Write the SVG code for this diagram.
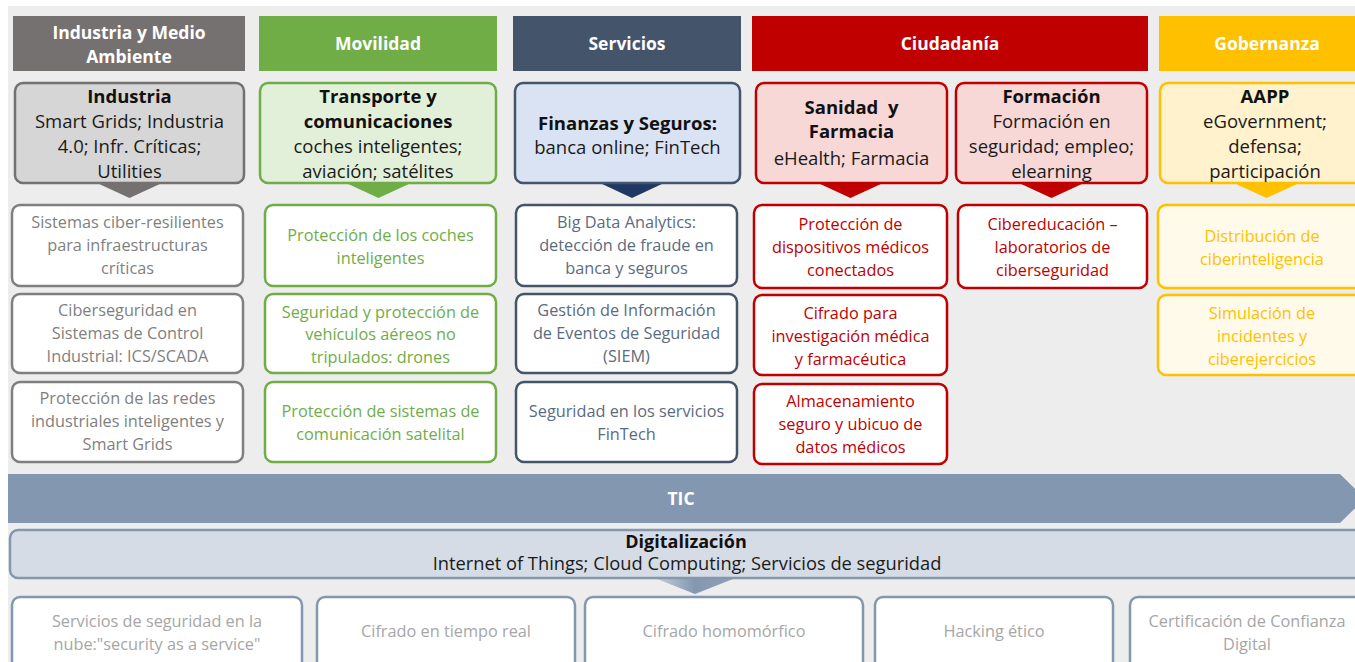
<svg xmlns="http://www.w3.org/2000/svg" width="1355" height="662" viewBox="0 0 1355 662">
<defs>
<linearGradient id="gArrow" x1="0" y1="0" x2="1" y2="0">
<stop offset="0" stop-color="#c3cddb"/>
<stop offset="0.5" stop-color="#8497b0"/>
<stop offset="1" stop-color="#8fa1b8"/>
</linearGradient>
</defs>
<style>
text{font-family:"Open Sans","Liberation Sans",sans-serif;text-anchor:middle;dominant-baseline:central}
.h{font-size:17.5px;font-weight:bold;fill:#ffffff}
.sb{font-size:18.5px;font-weight:bold;fill:#111111}
.sn{font-size:18.5px;fill:#1a1a1a}
.it{font-size:16.3px}
.box{stroke-width:2.5}
.gray{fill:#ffffff;stroke:#7f7f7f}
.green{fill:#ffffff;stroke:#70ad47}
.navy{fill:#ffffff;stroke:#44546a}
.red{fill:#ffffff;stroke:#c00000}
.yel{fill:#fffaea;stroke:#ffc000}
.tgray{fill:#7f7f7f}
.tgreen{fill:#70ad47}
.tnavy{fill:#5b6b80}
.tred{fill:#c00000}
.tyel{fill:#ffc000}
.bot{fill:#ffffff;stroke:#8497b0;stroke-width:2.5}
.tbot{fill:#a6a6a6;font-size:16.3px}
</style>
<rect x="0" y="0" width="1355" height="662" fill="#ffffff"/>
<rect x="8" y="6" width="1347" height="656" fill="#ededed"/>

<!-- Headers -->
<g id="h-industria"><rect x="13" y="16" width="232" height="55" fill="#767171"/><text class="h" x="129" y="32">Industria y Medio</text><text class="h" x="129" y="56">Ambiente</text></g>
<g id="h-movilidad"><rect x="259" y="16" width="238" height="55" fill="#70ad47"/><text class="h" x="378" y="43">Movilidad</text></g>
<g id="h-servicios"><rect x="513" y="16" width="228" height="55" fill="#44546a"/><text class="h" x="627" y="43">Servicios</text></g>
<g id="h-ciudadania"><rect x="752" y="16" width="396" height="55" fill="#c00000"/><text class="h" x="950" y="43">Ciudadanía</text></g>
<g id="h-gobernanza"><rect x="1159" y="16" width="210" height="55" fill="#ffc000"/><text class="h" x="1267" y="43">Gobernanza</text></g>

<!-- Sub-headers -->
<g id="s-industria"><polygon points="97,183 162,183 129.5,198" fill="#767171"/><rect class="box" x="15" y="83" width="229" height="100" rx="8" fill="#d6d6d6" stroke="#767171"/><text class="sb" x="129.5" y="95">Industria</text><text class="sn" x="129.5" y="120">Smart Grids; Industria</text><text class="sn" x="129.5" y="145">4.0; Infr. Críticas;</text><text class="sn" x="129.5" y="170">Utilities</text></g>
<g id="s-transporte"><polygon points="346,183 411,183 378.5,198" fill="#70ad47"/><rect class="box" x="260" y="83" width="236" height="100" rx="8" fill="#e2f0d9" stroke="#70ad47"/><text class="sb" x="378" y="95">Transporte y</text><text class="sb" x="378" y="120">comunicaciones</text><text class="sn" x="378" y="145">coches inteligentes;</text><text class="sn" x="378" y="170">aviación; satélites</text></g>
<g id="s-finanzas"><polygon points="600,183 664,183 632,198" fill="#1f3864"/><rect class="box" x="515" y="83" width="225" height="100" rx="8" fill="#dae3f3" stroke="#44546a"/><text class="sb" x="627.5" y="122">Finanzas y Seguros:</text><text class="sn" x="627.5" y="146">banca online; FinTech</text></g>
<g id="s-sanidad"><polygon points="818,183 883,183 850.5,198" fill="#c00000"/><rect class="box" x="756" y="83" width="191" height="100" rx="8" fill="#f8d7d7" stroke="#c00000"/><text class="sb" x="851.5" y="106" xml:space="preserve">Sanidad  y</text><text class="sb" x="851.5" y="130">Farmacia</text><text class="sn" x="851.5" y="157">eHealth; Farmacia</text></g>
<g id="s-formacion"><polygon points="1019,183 1084,183 1051.5,198" fill="#c00000"/><rect class="box" x="956" y="83" width="191" height="100" rx="8" fill="#f8d7d7" stroke="#c00000"/><text class="sb" x="1051.5" y="95">Formación</text><text class="sn" x="1051.5" y="120">Formación en</text><text class="sn" x="1051.5" y="145">seguridad; empleo;</text><text class="sn" x="1051.5" y="170">elearning</text></g>
<g id="s-aapp"><polygon points="1234,183 1299,183 1266.5,198" fill="#ffc000"/><rect class="box" x="1160" y="83" width="214" height="100" rx="8" fill="#fff2cc" stroke="#ffc000"/><text class="sb" x="1265" y="95">AAPP</text><text class="sn" x="1265" y="120">eGovernment;</text><text class="sn" x="1265" y="145">defensa;</text><text class="sn" x="1265" y="170">participación</text></g>

<!-- Column 1 items -->
<g id="i1-1"><rect class="box gray" x="12" y="205" width="231" height="81" rx="8"/><text class="it tgray" x="127.5" y="222">Sistemas ciber-resilientes</text><text class="it tgray" x="127.5" y="245">para infraestructuras</text><text class="it tgray" x="127.5" y="268">críticas</text></g>
<g id="i1-2"><rect class="box gray" x="12" y="294" width="231" height="79" rx="8"/><text class="it tgray" x="127.5" y="310">Ciberseguridad en</text><text class="it tgray" x="127.5" y="333">Sistemas de Control</text><text class="it tgray" x="127.5" y="356">Industrial: ICS/SCADA</text></g>
<g id="i1-3"><rect class="box gray" x="12" y="382" width="231" height="80" rx="8"/><text class="it tgray" x="127.5" y="398">Protección de las redes</text><text class="it tgray" x="127.5" y="421">industriales inteligentes y</text><text class="it tgray" x="127.5" y="444">Smart Grids</text></g>

<!-- Column 2 items -->
<g id="i2-1"><rect class="box green" x="265" y="205" width="231" height="81" rx="8"/><text class="it tgreen" x="380.5" y="235">Protección de los coches</text><text class="it tgreen" x="380.5" y="258">inteligentes</text></g>
<g id="i2-2"><rect class="box green" x="265" y="294" width="231" height="79" rx="8"/><text class="it tgreen" x="380.5" y="312">Seguridad y protección de</text><text class="it tgreen" x="380.5" y="334">vehículos aéreos no</text><text class="it tgreen" x="380.5" y="357">tripulados: drones</text></g>
<g id="i2-3"><rect class="box green" x="265" y="382" width="231" height="80" rx="8"/><text class="it tgreen" x="380.5" y="411">Protección de sistemas de</text><text class="it tgreen" x="380.5" y="434">comunicación satelital</text></g>

<!-- Column 3 items -->
<g id="i3-1"><rect class="box navy" x="516" y="205" width="221" height="81" rx="8"/><text class="it tnavy" x="626.5" y="222">Big Data Analytics:</text><text class="it tnavy" x="626.5" y="245">detección de fraude en</text><text class="it tnavy" x="626.5" y="268">banca y seguros</text></g>
<g id="i3-2"><rect class="box navy" x="516" y="294" width="221" height="79" rx="8"/><text class="it tnavy" x="626.5" y="310">Gestión de Información</text><text class="it tnavy" x="626.5" y="333">de Eventos de Seguridad</text><text class="it tnavy" x="626.5" y="356">(SIEM)</text></g>
<g id="i3-3"><rect class="box navy" x="516" y="382" width="221" height="80" rx="8"/><text class="it tnavy" x="626.5" y="411">Seguridad en los servicios</text><text class="it tnavy" x="626.5" y="434">FinTech</text></g>

<!-- Column 4 items -->
<g id="i4-1"><rect class="box red" x="754" y="205" width="193" height="83" rx="8"/><text class="it tred" x="850.5" y="224">Protección de</text><text class="it tred" x="850.5" y="247">dispositivos médicos</text><text class="it tred" x="850.5" y="270">conectados</text></g>
<g id="i4-2"><rect class="box red" x="754" y="295" width="193" height="80" rx="8"/><text class="it tred" x="850.5" y="313">Cifrado para</text><text class="it tred" x="850.5" y="336">investigación médica</text><text class="it tred" x="850.5" y="359">y farmacéutica</text></g>
<g id="i4-3"><rect class="box red" x="754" y="384" width="193" height="80" rx="8"/><text class="it tred" x="850.5" y="401">Almacenamiento</text><text class="it tred" x="850.5" y="424">seguro y ubicuo de</text><text class="it tred" x="850.5" y="447">datos médicos</text></g>

<!-- Column 5 items -->
<g id="i5-1"><rect class="box red" x="958" y="205" width="189" height="83" rx="8"/><text class="it tred" x="1052.5" y="224">Cibereducación –</text><text class="it tred" x="1052.5" y="247">laboratorios de</text><text class="it tred" x="1052.5" y="270">ciberseguridad</text></g>

<!-- Column 6 items -->
<g id="i6-1"><rect class="box yel" x="1158" y="205" width="216" height="83" rx="8"/><text class="it tyel" x="1262" y="236">Distribución de</text><text class="it tyel" x="1262" y="259">ciberinteligencia</text></g>
<g id="i6-2"><rect class="box yel" x="1158" y="295" width="216" height="80" rx="8"/><text class="it tyel" x="1262" y="313">Simulación de</text><text class="it tyel" x="1262" y="336">incidentes y</text><text class="it tyel" x="1262" y="359">ciberejercicios</text></g>

<!-- TIC band -->
<g id="tic"><polygon points="8,474 1340,474 1365,498.5 1340,523 8,523" fill="#8497b0"/><text class="h" x="681" y="498">TIC</text></g>

<!-- Digitalización -->
<g id="digitalizacion"><polygon points="657,579 733,579 695,594" fill="url(#gArrow)"/><rect x="10" y="530" width="1360" height="48" rx="8" fill="#d6dce5" stroke="#8497b0" stroke-width="2.5"/><text class="sb" x="686" y="541" style="font-size:18px">Digitalización</text><text class="sn" x="687" y="562" style="font-size:18.3px">Internet of Things; Cloud Computing; Servicios de seguridad</text></g>

<!-- Bottom boxes -->
<g id="b1"><rect class="bot" x="12" y="597" width="290" height="85" rx="8"/><text class="tbot" x="157" y="621">Servicios de seguridad en la</text><text class="tbot" x="157" y="644">nube:"security as a service"</text></g>
<g id="b2"><rect class="bot" x="317" y="597" width="258" height="85" rx="8"/><text class="tbot" x="446" y="631">Cifrado en tiempo real</text></g>
<g id="b3"><rect class="bot" x="585" y="597" width="278" height="85" rx="8"/><text class="tbot" x="724" y="631">Cifrado homomórfico</text></g>
<g id="b4"><rect class="bot" x="875" y="597" width="238" height="85" rx="8"/><text class="tbot" x="994" y="631">Hacking ético</text></g>
<g id="b5"><rect class="bot" x="1130" y="597" width="240" height="85" rx="8"/><text class="tbot" x="1247" y="621">Certificación de Confianza</text><text class="tbot" x="1247" y="644">Digital</text></g>

<g id="connectors"></g>
</svg>
